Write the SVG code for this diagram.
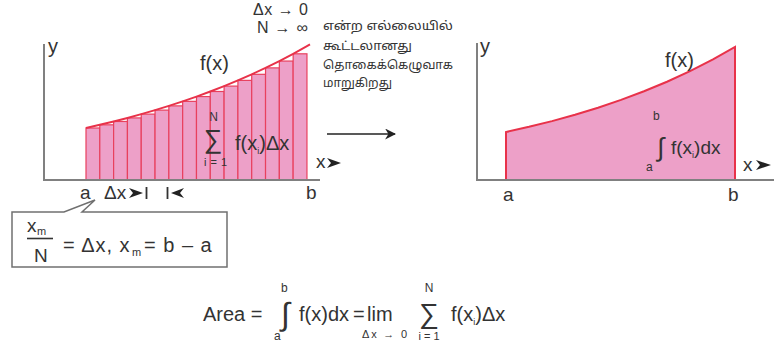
<svg xmlns="http://www.w3.org/2000/svg" width="777" height="349" viewBox="0 0 777 349">
<style>
text{font-family:"Liberation Sans",Arial,sans-serif;fill:#333;}
.t19{font-size:19px;}
.t20{font-size:20px;}
.t16{font-size:16px;}
.s9{font-size:9px;}
.s11{font-size:11px;}
.s12{font-size:12px;}
.axis{stroke:#808080;stroke-width:2;fill:none;}
.bar{fill:#eda0c8;stroke:#e8405e;stroke-width:1.2;}
.curve{fill:none;stroke:#e8324a;stroke-width:2;}
.area{fill:#eda0c8;stroke:none;}
.tamil{font-family:"Noto Sans Tamil","Lohit Tamil","Noto Sans",sans-serif;font-size:12px;fill:#333;}
.head{fill:#222;}
</style>
<defs>
<marker id="ah" viewBox="0 0 10 10" refX="9" refY="5" markerWidth="11" markerHeight="11" markerUnits="userSpaceOnUse" orient="auto">
<path d="M0,0 L10,5 L0,10 L3,5 Z" fill="#222"/>
</marker>
</defs>

<g id="left-chart">
<g id="bars">
<rect class="bar" x="86" y="128" width="13.81" height="52"/>
<rect class="bar" x="99.81" y="124.83" width="13.81" height="55.17"/>
<rect class="bar" x="113.62" y="121.47" width="13.81" height="58.53"/>
<rect class="bar" x="127.43" y="117.91" width="13.81" height="62.09"/>
<rect class="bar" x="141.24" y="114.13" width="13.81" height="65.87"/>
<rect class="bar" x="155.05" y="110.12" width="13.81" height="69.88"/>
<rect class="bar" x="168.86" y="105.87" width="13.81" height="74.13"/>
<rect class="bar" x="182.67" y="101.36" width="13.81" height="78.64"/>
<rect class="bar" x="196.48" y="96.57" width="13.81" height="83.43"/>
<rect class="bar" x="210.29" y="91.49" width="13.81" height="88.51"/>
<rect class="bar" x="224.1" y="86.1" width="13.81" height="93.9"/>
<rect class="bar" x="237.91" y="80.38" width="13.81" height="99.62"/>
<rect class="bar" x="251.72" y="74.32" width="13.81" height="105.68"/>
<rect class="bar" x="265.53" y="67.88" width="13.81" height="112.12"/>
<rect class="bar" x="279.34" y="61.06" width="13.81" height="118.94"/>
<rect class="bar" x="293.15" y="53.81" width="13.81" height="126.19"/>
</g>
<path class="curve" d="M86,128 L99.81,124.83 L113.62,121.47 L127.43,117.91 L141.24,114.13 L155.05,110.12 L168.86,105.87 L182.67,101.36 L196.48,96.57 L210.29,91.49 L224.1,86.1 L237.91,80.38 L251.72,74.32 L265.53,67.88 L279.34,61.06 L293.15,53.81 L306.96,46.1 L310,44.4"/>
<path class="axis" d="M44,44 V180 H320"/>
<text class="t20" x="48" y="53">y</text>
<text class="t20" x="200" y="70">f(x)</text>
<text class="t16" x="253" y="15" textLength="55" lengthAdjust="spacing">Δx → 0</text>
<text class="t16" x="257" y="33" textLength="51" lengthAdjust="spacing">N → ∞</text>
<text class="s12" x="213.5" y="121" text-anchor="middle">N</text>
<text x="213" y="148" text-anchor="middle" style="font-size:26px">∑</text>
<text class="s11" x="204" y="166" textLength="23" lengthAdjust="spacing">i = 1</text>
<text class="t20" x="235" y="150">f(x<tspan class="s9" dy="4">i</tspan><tspan dy="-4">)Δx</tspan></text>
<text class="t19" x="316" y="168">x</text>
<path class="head" d="M327,158 L341,163 L327,168 L331,163 Z"/>
<text class="t19" x="80" y="199">a</text>
<text class="t19" x="104" y="199">Δx</text>
<path class="head" d="M129,188 L143,193 L129,198 L133,193 Z"/>
<path d="M146.5,187 V199 M167.5,187 V199" stroke="#333" stroke-width="1.8"/>
<path class="head" d="M184,188 L171,193 L184,198 L180,193 Z"/>
<text class="t19" x="306" y="199">b</text>
</g>

<g id="callout">
<path d="M12,212 H64 L95,200 L82,212 H227 V267 H12 Z" fill="#fff" stroke="#707070" stroke-width="1.5"/>
<text class="t19" x="27" y="232">x</text>
<text class="s11" x="37" y="235">m</text>
<path d="M27,238.5 H53" stroke="#333" stroke-width="1.6"/>
<text class="t19" x="34" y="262">N</text>
<text class="t20" x="63" y="252" letter-spacing="1">= Δx, x</text>
<text class="s11" x="132" y="256">m</text>
<text class="t20" x="144" y="252" letter-spacing="1">= b – a</text>
</g>

<g id="caption">
<text class="tamil" x="323" y="30" textLength="130" lengthAdjust="spacingAndGlyphs">என்ற எல்லையில்</text>
<text class="tamil" x="323" y="50" textLength="89" lengthAdjust="spacingAndGlyphs">கூட்டலானது</text>
<text class="tamil" x="323" y="69" textLength="130" lengthAdjust="spacingAndGlyphs">தொகைக்கெழுவாக</text>
<text class="tamil" x="323" y="87" textLength="69" lengthAdjust="spacingAndGlyphs">மாறுகிறது</text>
</g>

<g id="connectors">
<path d="M327,134 L395,134" stroke="#222" stroke-width="1.5" marker-end="url(#ah)"/>
</g>

<g id="right-chart">
<path class="area" d="M506,180 V132 L529,126.83 L552,121.1 L575,114.75 L598,107.72 L621,99.93 L644,91.29 L667,81.73 L690,71.15 L713,59.42 L735,47 V180 Z"/>
<path class="curve" d="M506,180 V132 L529,126.83 L552,121.1 L575,114.75 L598,107.72 L621,99.93 L644,91.29 L667,81.73 L690,71.15 L713,59.42 L735,47 V180"/>
<path class="axis" d="M477,43 V180 H774"/>
<text class="t20" x="480" y="53">y</text>
<text class="t20" x="665" y="67">f(x)</text>
<text class="s12" x="653" y="120">b</text>
<text x="657" y="156" style="font-size:26px">∫</text>
<text class="s12" x="646" y="171">a</text>
<text class="t19" x="671" y="154">f(x<tspan class="s9" dy="4">i</tspan><tspan dy="-4">)dx</tspan></text>
<text class="t19" x="743" y="171">x</text>
<path class="head" d="M756,160 L771,165 L756,170 L760,165 Z"/>
<text class="t19" x="503" y="201">a</text>
<text class="t19" x="728" y="201">b</text>
</g>

<g id="formula">
<text class="t20" x="203" y="321">Area =</text>
<text class="s12" x="281" y="292">b</text>
<text x="281" y="325" style="font-size:32px">∫</text>
<text class="s12" x="274" y="340">a</text>
<text class="t20" x="299" y="321">f(x)dx</text>
<text class="t20" x="353" y="321">=</text>
<text class="t20" x="367" y="321">lim</text>
<text class="s11" x="362" y="338" textLength="45" lengthAdjust="spacing">Δx → 0</text>
<text class="s12" x="429" y="292" text-anchor="middle">N</text>
<text x="429" y="323" text-anchor="middle" style="font-size:28px">∑</text>
<text class="s11" x="429" y="340" text-anchor="middle">i = 1</text>
<text class="t20" x="451" y="321">f(x<tspan class="s9" dy="4">i</tspan><tspan dy="-4">)Δx</tspan></text>
</g>
</svg>
